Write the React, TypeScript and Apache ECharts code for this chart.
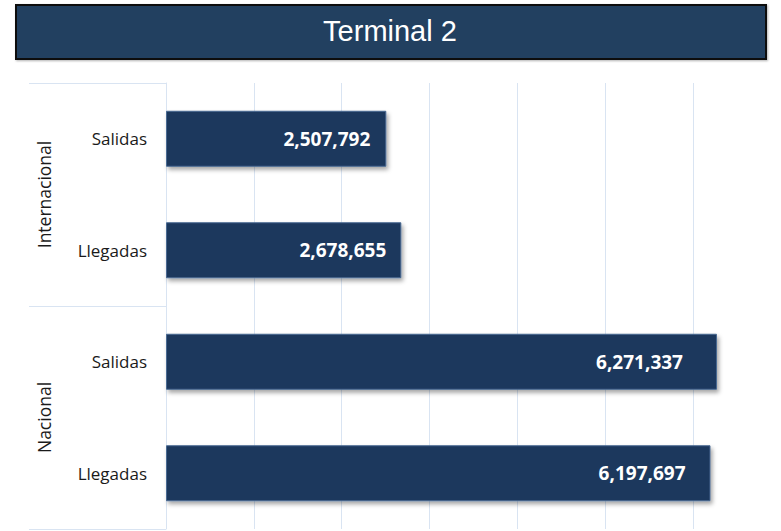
import React, { useEffect, useRef } from "react";
import * as echarts from "echarts";

const categories = ["Salidas", "Llegadas", "Salidas", "Llegadas"];
const groups = ["Internacional", "Nacional"];
const values = [2507792, 2678655, 6271337, 6197697];
const titleText = "Terminal 2";

// styling: distance of each value label from its bar end (px)
const labelInset = [16, 15, 34, 25];

export default function App() {
  const ref = useRef<HTMLDivElement>(null);
  useEffect(() => {
    if (!ref.current) return;
    const chart = echarts.init(ref.current, undefined, { renderer: "svg" });
    const gridColor = "#d9e4f2";
    chart.setOption({
      animation: false,
      backgroundColor: "#ffffff",
      grid: { left: 166, top: 83, width: 617.75, height: 446, containLabel: false },
      xAxis: {
        type: "value",
        min: 0,
        max: 7000000,
        interval: 1000000,
        axisLabel: { show: false },
        axisLine: { show: false },
        axisTick: { show: false },
        splitLine: { show: true, lineStyle: { color: gridColor, width: 1 } },
      },
      yAxis: [
        {
          type: "category",
          data: categories,
          inverse: true,
          axisLine: { show: true, lineStyle: { color: gridColor, width: 1 } },
          axisTick: { show: false },
          axisLabel: {
            margin: 19,
            color: "#1a1a1a",
            fontFamily: "Open Sans",
            fontSize: 17,
          },
          splitLine: { show: false },
        },
        {
          type: "category",
          data: groups,
          inverse: true,
          position: "left",
          offset: 0,
          axisLine: { show: false },
          axisTick: {
            show: true,
            inside: false,
            length: 137,
            lineStyle: { color: gridColor, width: 1 },
          },
          axisLabel: {
            rotate: 90,
            margin: 122,
            align: "center",
            verticalAlign: "middle",
            color: "#1a1a1a",
            fontFamily: "Open Sans",
            fontSize: 17.5,
          },
          splitLine: { show: false },
        },
      ],
      series: [
        {
          type: "bar",
          yAxisIndex: 0,
          barWidth: 56,
          data: values.map((v, i) => ({
            value: v,
            label: { distance: labelInset[i] },
          })),
          itemStyle: {
            color: "#1b375d",
            borderColor: "#4a6a92",
            borderWidth: 1,
            shadowColor: "rgba(0,0,0,0.35)",
            shadowBlur: 4,
            shadowOffsetX: 2,
            shadowOffsetY: 3,
          },
          label: {
            show: true,
            position: "insideRight",
            color: "#ffffff",
            fontFamily: "Open Sans",
            fontWeight: "bold",
            fontSize: 19,
            formatter: (p: any) => Number(p.value).toLocaleString("en-US"),
          },
        },
      ],
      graphic: [
        {
          type: "rect",
          shape: { x: 16, y: 5, width: 750, height: 54 },
          style: {
            fill: "#243f61",
            stroke: "#111111",
            lineWidth: 2,
            shadowColor: "rgba(0,0,0,0.3)",
            shadowBlur: 2,
            shadowOffsetX: 1,
            shadowOffsetY: 1,
          },
        },
        {
          type: "text",
          x: 390,
          y: 31,
          style: {
            text: titleText,
            fill: "#ffffff",
            font: "29px 'Liberation Sans', Arial, sans-serif",
            textAlign: "center",
            textVerticalAlign: "middle",
          },
        },
      ],
    });
    return () => chart.dispose();
  }, []);
  return (
    <div
      ref={ref}
      style={{ position: "absolute", left: 0, top: 0, width: 781, height: 531 }}
    />
  );
}
